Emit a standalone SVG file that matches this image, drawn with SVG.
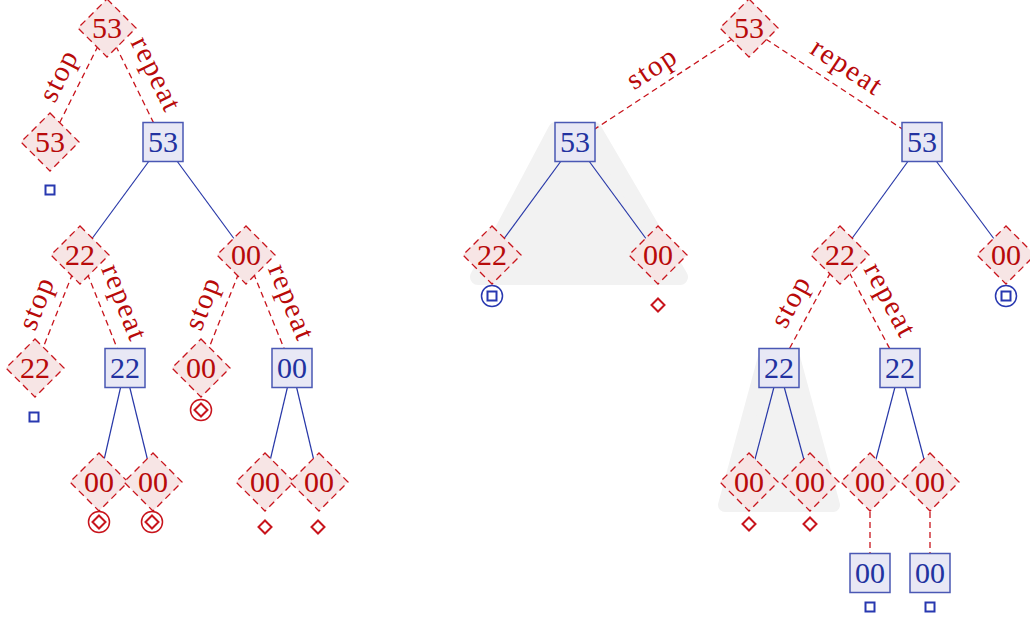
<svg xmlns="http://www.w3.org/2000/svg" xmlns:xlink="http://www.w3.org/1999/xlink" width="1030" height="623" viewBox="0 0 1030 623" font-family="Liberation Serif, DejaVu Serif, serif">
<style>
.dia{fill:#f7e5e5;stroke:#c8141c;stroke-width:1.3;stroke-dasharray:7 4.5}
.box{fill:#e8e8f5;stroke:#4a58b4;stroke-width:1.5}
.rt{font-size:30px;fill:#b80a0a;text-anchor:middle}
.bt{font-size:30px;fill:#2232a0;text-anchor:middle}
.lbl{font-size:29px;fill:#b80a0a;text-anchor:middle;letter-spacing:1.6px}
.blue{stroke:#2838a8;stroke-width:1.2;fill:none}
.red{stroke:#c8141c;stroke-width:1.3;stroke-dasharray:6 4;fill:none}
.shade{fill:#f2f2f2;stroke:#f2f2f2;stroke-linejoin:round}
.mk-r{fill:#fff;stroke:#c8141c;stroke-width:2}
.mk-rc{fill:#fff;stroke:#c8141c;stroke-width:1.5}
.mk-b{fill:#fff;stroke:#2838b0;stroke-width:2}
.mk-bc{fill:#fff;stroke:#2838b0;stroke-width:1.5}
</style>
<defs>
<polygon id="D" class="dia" points="0,-29 29,0 0,29 -29,0"/>
<rect id="B" class="box" x="-20" y="-19.5" width="40" height="39"/>
<g id="sq"><rect class="mk-b" x="-4.5" y="-4.5" width="9" height="9"/></g>
<g id="sd"><polygon class="mk-r" points="0,-6.5 6.5,0 0,6.5 -6.5,0"/></g>
<g id="cd"><circle class="mk-rc" r="10.5"/><polygon class="mk-r" points="0,-6.5 6.5,0 0,6.5 -6.5,0"/></g>
<g id="cs"><circle class="mk-bc" r="10.5"/><rect class="mk-b" x="-4.5" y="-4.5" width="9" height="9"/></g>
</defs>

<g id="shading">
<polygon class="shade" stroke-width="16" points="556,130 594,130 680,277 478,277"/>
<polygon class="shade" stroke-width="14" points="765,357 793,357 833,505 725,505"/>
</g>

<g id="connectors">
<line class="red" x1="107" y1="28" x2="50" y2="142"/>
<line class="red" x1="107" y1="28" x2="163" y2="142"/>
<line class="blue" x1="163" y1="142" x2="80" y2="255"/>
<line class="blue" x1="163" y1="142" x2="246" y2="255"/>
<line class="red" x1="80" y1="255" x2="35" y2="368"/>
<line class="red" x1="80" y1="255" x2="125" y2="368"/>
<line class="red" x1="246" y1="255" x2="201" y2="368"/>
<line class="red" x1="246" y1="255" x2="292" y2="368"/>
<line class="blue" x1="125" y1="368" x2="99" y2="482"/>
<line class="blue" x1="125" y1="368" x2="153" y2="482"/>
<line class="blue" x1="292" y1="368" x2="265" y2="482"/>
<line class="blue" x1="292" y1="368" x2="319" y2="482"/>

<line class="red" x1="749" y1="28" x2="575" y2="142"/>
<line class="red" x1="749" y1="28" x2="922" y2="142"/>
<line class="blue" x1="575" y1="142" x2="492" y2="255"/>
<line class="blue" x1="575" y1="142" x2="658" y2="255"/>
<line class="blue" x1="922" y1="142" x2="840" y2="255"/>
<line class="blue" x1="922" y1="142" x2="1006" y2="255"/>
<line class="red" x1="840" y1="255" x2="779" y2="368"/>
<line class="red" x1="840" y1="255" x2="900" y2="368"/>
<line class="blue" x1="779" y1="368" x2="749" y2="482"/>
<line class="blue" x1="779" y1="368" x2="810" y2="482"/>
<line class="blue" x1="900" y1="368" x2="870" y2="482"/>
<line class="blue" x1="900" y1="368" x2="930" y2="482"/>
<line class="red" x1="870" y1="482" x2="870" y2="573"/>
<line class="red" x1="930" y1="482" x2="930" y2="573"/>

<text class="lbl" transform="translate(62,77) rotate(-63.4)" y="5.5">stop</text>
<text class="lbl" transform="translate(153,76) rotate(63.8)" y="5.5">repeat</text>
<text class="lbl" transform="translate(40,304.5) rotate(-68.3)" y="5.5">stop</text>
<text class="lbl" transform="translate(121,304) rotate(68.3)" y="5.5">repeat</text>
<text class="lbl" transform="translate(206,304.5) rotate(-68.3)" y="5.5">stop</text>
<text class="lbl" transform="translate(288,304) rotate(67.8)" y="5.5">repeat</text>
<text class="lbl" transform="translate(654,71) rotate(-33.2)" y="5.5">stop</text>
<text class="lbl" transform="translate(845,70) rotate(33.4)" y="5.5">repeat</text>
<text class="lbl" transform="translate(794,303) rotate(-61.6)" y="5.5">stop</text>
<text class="lbl" transform="translate(887,302) rotate(62)" y="5.5">repeat</text>
</g>

<g id="n1" transform="translate(107,28)"><use href="#D"/><text class="rt" y="10">53</text></g>
<g id="n2" transform="translate(50,142)"><use href="#D"/><text class="rt" y="10">53</text><use href="#sq" y="48"/></g>
<g id="n3" transform="translate(163,142)"><use href="#B"/><text class="bt" y="10">53</text></g>
<g id="n4" transform="translate(80,255)"><use href="#D"/><text class="rt" y="10">22</text></g>
<g id="n5" transform="translate(246,255)"><use href="#D"/><text class="rt" y="10">00</text></g>
<g id="n6" transform="translate(35,368)"><use href="#D"/><text class="rt" y="10">22</text><use href="#sq" x="-1" y="49"/></g>
<g id="n7" transform="translate(125,368)"><use href="#B"/><text class="bt" y="10">22</text></g>
<g id="n8" transform="translate(201,368)"><use href="#D"/><text class="rt" y="10">00</text><use href="#cd" y="42"/></g>
<g id="n9" transform="translate(292,368)"><use href="#B"/><text class="bt" y="10">00</text></g>
<g id="n10" transform="translate(99,482)"><use href="#D"/><text class="rt" y="10">00</text><use href="#cd" y="40"/></g>
<g id="n11" transform="translate(153,482)"><use href="#D"/><text class="rt" y="10">00</text><use href="#cd" x="-1" y="40"/></g>
<g id="n12" transform="translate(265,482)"><use href="#D"/><text class="rt" y="10">00</text><use href="#sd" y="45"/></g>
<g id="n13" transform="translate(319,482)"><use href="#D"/><text class="rt" y="10">00</text><use href="#sd" x="-1" y="45"/></g>

<g id="m1" transform="translate(749,28)"><use href="#D"/><text class="rt" y="10">53</text></g>
<g id="m2" transform="translate(575,142)"><use href="#B"/><text class="bt" y="10">53</text></g>
<g id="m3" transform="translate(922,142)"><use href="#B"/><text class="bt" y="10">53</text></g>
<g id="m4" transform="translate(492,255)"><use href="#D"/><text class="rt" y="10">22</text><use href="#cs" y="41"/></g>
<g id="m5" transform="translate(658,255)"><use href="#D"/><text class="rt" y="10">00</text><use href="#sd" y="50"/></g>
<g id="m6" transform="translate(840,255)"><use href="#D"/><text class="rt" y="10">22</text></g>
<g id="m7" transform="translate(1006,255)"><use href="#D"/><text class="rt" y="10">00</text><use href="#cs" y="41"/></g>
<g id="m8" transform="translate(779,368)"><use href="#B"/><text class="bt" y="10">22</text></g>
<g id="m9" transform="translate(900,368)"><use href="#B"/><text class="bt" y="10">22</text></g>
<g id="m10" transform="translate(749,482)"><use href="#D"/><text class="rt" y="10">00</text><use href="#sd" y="42"/></g>
<g id="m11" transform="translate(810,482)"><use href="#D"/><text class="rt" y="10">00</text><use href="#sd" y="42"/></g>
<g id="m12" transform="translate(870,482)"><use href="#D"/><text class="rt" y="10">00</text></g>
<g id="m13" transform="translate(930,482)"><use href="#D"/><text class="rt" y="10">00</text></g>
<g id="m14" transform="translate(870,573)"><use href="#B"/><text class="bt" y="10">00</text><use href="#sq" y="34"/></g>
<g id="m15" transform="translate(930,573)"><use href="#B"/><text class="bt" y="10">00</text><use href="#sq" y="34"/></g>
</svg>
